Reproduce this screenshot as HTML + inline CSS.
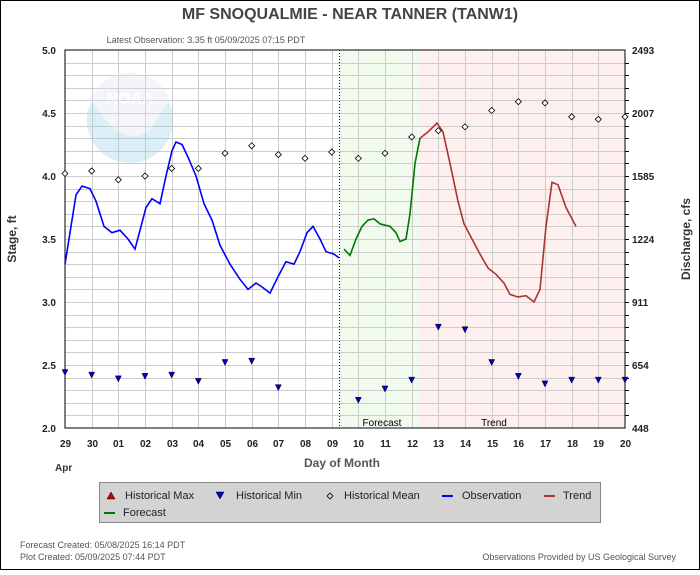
<!DOCTYPE html>
<html><head><meta charset="utf-8"><style>
body{margin:0;background:#fff}
svg text{font-family:"Liberation Sans",Arial,sans-serif}
</style></head><body>
<svg id="s" width="700" height="570" xmlns="http://www.w3.org/2000/svg">
<rect x="0.5" y="0.5" width="699" height="569" fill="#fff" stroke="#000"/>
<rect x="340" y="50" width="80" height="378" fill="#f0fbee"/>
<rect x="420" y="50" width="205" height="378" fill="#fdf0ef"/>
<g id="grid" stroke="#ccc" stroke-width="1"></g>
<g opacity="0.35">
<circle cx="130" cy="120" r="43" fill="#9ccfe6"/>
<path d="M90 100 A43 43 0 0 1 170 100 L150 130 Q130 145 110 125 Z" fill="#dde4ee"/>
<text x="130" y="104" font-size="16" font-weight="bold" fill="#fff" text-anchor="middle">NOAA</text>
</g>
<line x1="339.5" y1="50" x2="339.5" y2="428" stroke="#000" stroke-dasharray="1,2"/>
<rect x="65" y="50" width="560" height="378" fill="none" stroke="#000"/>
<g id="dyn"></g>
<text x="350" y="19" font-size="16" font-weight="bold" fill="#444" text-anchor="middle">MF SNOQUALMIE - NEAR TANNER  (TANW1)</text>
<text x="206" y="43" font-size="9" fill="#555" text-anchor="middle">Latest Observation: 3.35 ft 05/09/2025 07:15 PDT</text>
<text x="382" y="426" font-size="10" fill="#000" text-anchor="middle">Forecast</text>
<text x="494" y="426" font-size="10" fill="#000" text-anchor="middle">Trend</text>
<text x="342" y="467" font-size="12" font-weight="bold" fill="#555" text-anchor="middle">Day of Month</text>
<text x="55" y="471" font-size="10" font-weight="bold" fill="#333">Apr</text>
<text transform="translate(16,239) rotate(-90)" font-size="12" font-weight="bold" fill="#333" text-anchor="middle">Stage, ft</text>
<text transform="translate(690,239) rotate(-90)" font-size="12" font-weight="bold" fill="#333" text-anchor="middle">Discharge, cfs</text>
<rect x="99.5" y="482.5" width="501" height="40" fill="#d3d3d3" stroke="#888"/>
<polygon points="107,499 111,492 115,499" fill="#c00" stroke="#000" stroke-width="0.5"/>
<text x="125" y="499" font-size="11" fill="#222">Historical Max</text>
<polygon points="216,492 224,492 220,499" fill="#00c" stroke="#000" stroke-width="0.5"/>
<text x="236" y="499" font-size="11" fill="#222">Historical Min</text>
<polygon points="330,493 333,496 330,499 327,496" fill="none" stroke="#000" stroke-width="0.8"/>
<text x="344" y="499" font-size="11" fill="#222">Historical Mean</text>
<line x1="442" y1="496" x2="453" y2="496" stroke="#00f" stroke-width="2"/>
<text x="462" y="499" font-size="11" fill="#222">Observation</text>
<line x1="544" y1="496" x2="555" y2="496" stroke="#a33" stroke-width="2"/>
<text x="563" y="499" font-size="11" fill="#222">Trend</text>
<line x1="104" y1="513" x2="115" y2="513" stroke="#070" stroke-width="2"/>
<text x="123" y="516" font-size="11" fill="#222">Forecast</text>
<text x="20" y="548" font-size="9" fill="#555">Forecast Created: 05/08/2025 16:14 PDT</text>
<text x="20" y="560" font-size="9" fill="#555">Plot Created: 05/09/2025 07:44 PDT</text>
<text x="676" y="560" font-size="9" fill="#555" text-anchor="end">Observations Provided by US Geological Survey</text>
</svg>
<script>
var NS="http://www.w3.org/2000/svg",g=document.getElementById('grid'),d=document.getElementById('dyn');
function el(p,t,a,txt){var e=document.createElementNS(NS,t);for(var k in a)e.setAttribute(k,a[k]);if(txt!==undefined)e.textContent=txt;p.appendChild(e);return e;}
function Y(s){return 50+(5-s)*126;}
function X(i){return 65+i*26.667;}
for(var i=1;i<30;i++){var y=Math.round(50+i*12.6)+0.5;el(g,'line',{x1:65,y1:y,x2:625,y2:y});el(d,'line',{x1:625,y1:y,x2:629,y2:y,stroke:'#000'});}
var days=['29','30','01','02','03','04','05','06','07','08','09','10','11','12','13','14','15','16','17','18','19','20'];
for(var i=0;i<22;i++){var x=Math.round(X(i))+0.5;if(i>0&&i<21)el(g,'line',{x1:x,y1:50,x2:x,y2:428});
el(d,'text',{x:x,y:447,'font-size':10,'font-weight':'bold','text-anchor':'middle',fill:'#222'},days[i]);}
['5.0','4.5','4.0','3.5','3.0','2.5','2.0'].forEach(function(t,i){el(d,'text',{x:56,y:54+i*63,'font-size':10,'font-weight':'bold','text-anchor':'end',fill:'#222'},t);});
['2493','2007','1585','1224','911','654','448'].forEach(function(t,i){el(d,'text',{x:632,y:54+i*63,'font-size':10,'font-weight':'bold',fill:'#222'},t);});
function line(pts,c){el(d,'polyline',{points:pts.map(function(p){return p[0]+','+Y(p[1]);}).join(' '),fill:'none',stroke:c,'stroke-width':1.6});}
line([[65,3.3],[70,3.55],[76,3.85],[82,3.92],[90,3.9],[96,3.8],[104,3.6],[112,3.55],[120,3.57],[128,3.5],[135,3.42],[141,3.6],[146,3.75],[152,3.82],[160,3.78],[166,4.0],[172,4.2],[176,4.27],[182,4.25],[188,4.15],[196,4.0],[204,3.78],[212,3.65],[220,3.45],[230,3.3],[240,3.18],[248,3.1],[256,3.15],[262,3.12],[270,3.07],[278,3.2],[286,3.32],[294,3.3],[300,3.4],[307,3.55],[313,3.6],[320,3.5],[326,3.4],[334,3.38],[339,3.35]],'#00f');
line([[344,3.42],[350,3.37],[356,3.5],[362,3.6],[368,3.65],[374,3.66],[380,3.62],[390,3.6],[396,3.55],[400,3.48],[406,3.5],[410,3.7],[415,4.1],[420,4.3]],'#070');
line([[420,4.3],[428,4.35],[437,4.42],[443,4.35],[450,4.1],[458,3.8],[464,3.62],[472,3.5],[480,3.38],[488,3.27],[496,3.22],[504,3.15],[510,3.06],[518,3.04],[526,3.05],[534,3.0],[540,3.1],[546,3.6],[552,3.95],[558,3.93],[566,3.75],[576,3.6]],'#a33');
var mean=[4.02,4.04,3.97,4.0,4.06,4.06,4.18,4.24,4.17,4.14,4.19,4.14,4.18,4.31,4.36,4.39,4.52,4.59,4.58,4.47,4.45,4.47];
mean.forEach(function(v,i){var x=X(i),y=Y(v);el(d,'polygon',{points:x+','+(y-3)+' '+(x+3)+','+y+' '+x+','+(y+3)+' '+(x-3)+','+y,fill:'#fff',stroke:'#000','stroke-width':0.8});});
var mn=[2.44,2.42,2.39,2.41,2.42,2.37,2.52,2.53,2.32,null,null,2.22,2.31,2.38,2.8,2.78,2.52,2.41,2.35,2.38,2.38,2.38];
mn.forEach(function(v,i){if(v==null)return;var x=X(i),y=Y(v);el(d,'polygon',{points:(x-3)+','+(y-3)+' '+(x+3)+','+(y-3)+' '+x+','+(y+3),fill:'#00c',stroke:'#000','stroke-width':0.5});});
</script>
</body></html>
